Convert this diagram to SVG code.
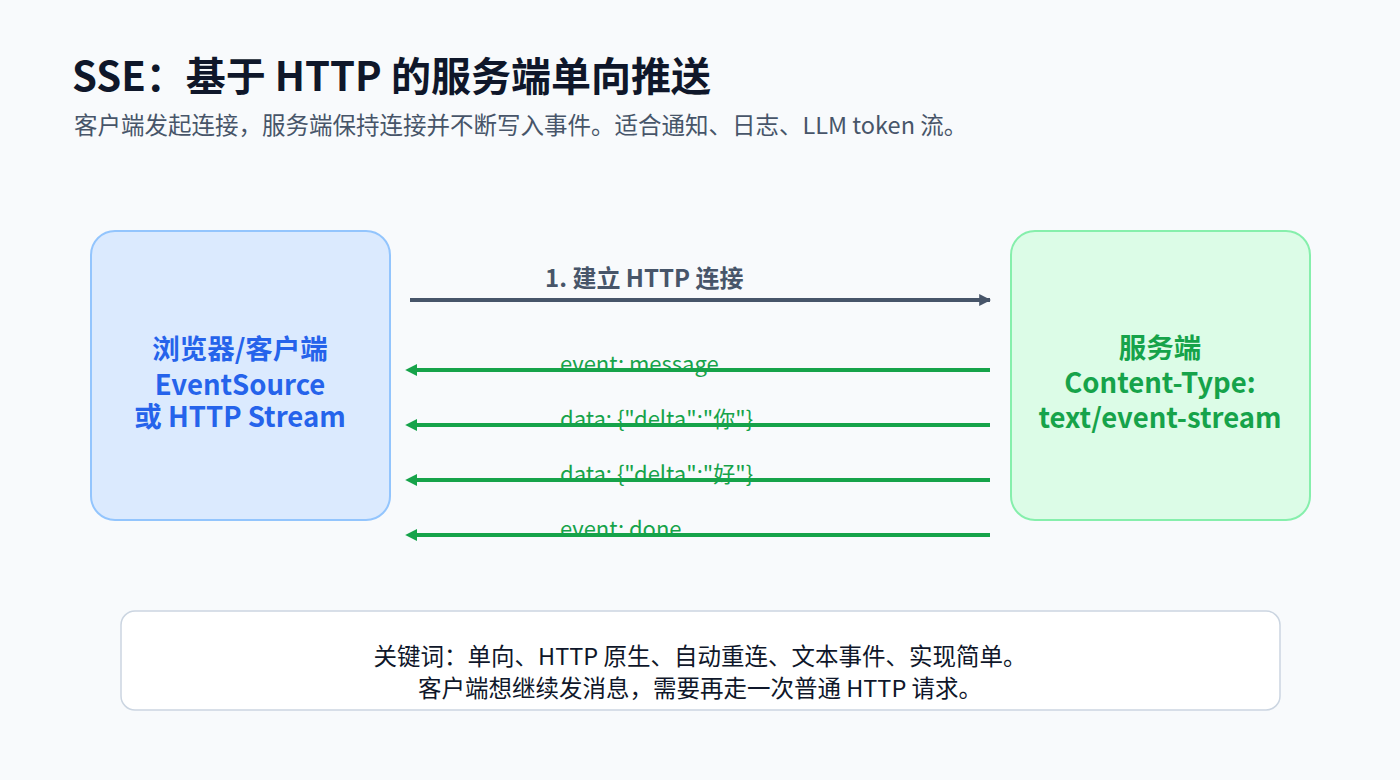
<svg xmlns="http://www.w3.org/2000/svg" width="1400" height="780" viewBox="0 0 1400 780">
<style>
text{font-family:"Noto Sans CJK SC","Noto Sans",sans-serif}
.msg{fill:#16a34a;font-size:22px}
.gl{stroke:#16a34a;stroke-width:4}
</style>
<defs>
<marker id="ag" viewBox="0 0 10 10" refX="1" refY="5" markerWidth="3" markerHeight="3" orient="auto-start-reverse"><path d="M0,0L10,5L0,10z" fill="#16a34a"/></marker>
<marker id="as" viewBox="0 0 10 10" refX="9" refY="5" markerWidth="3" markerHeight="3" orient="auto"><path d="M0,0L10,5L0,10z" fill="#475569"/></marker>
</defs>
<rect width="1400" height="780" fill="#f8fafc"/>
<text x="72" y="91" font-size="40" font-weight="bold" fill="#0f172a">SSE：基于 HTTP 的服务端单向推送</text>
<text x="74" y="134" font-size="23.5" fill="#475569">客户端发起连接，服务端保持连接并不断写入事件。适合通知、日志、LLM token 流。</text>
<g id="client">
<rect x="91" y="231" width="299" height="289" rx="24" fill="#dbeafe" stroke="#93c5fd" stroke-width="2"/>
<text x="240" y="359" font-size="27.5" font-weight="bold" fill="#2563eb" text-anchor="middle">浏览器/客户端</text>
<text x="240" y="395" font-size="27.5" font-weight="bold" fill="#2563eb" text-anchor="middle">EventSource</text>
<text x="240" y="427" font-size="27.5" font-weight="bold" fill="#2563eb" text-anchor="middle">或 HTTP Stream</text>
</g>
<g id="server">
<rect x="1011" y="231" width="299" height="289" rx="24" fill="#dcfce7" stroke="#86efac" stroke-width="2"/>
<text x="1160" y="358" font-size="27.5" font-weight="bold" fill="#16a34a" text-anchor="middle">服务端</text>
<text x="1160" y="393" font-size="27.5" font-weight="bold" fill="#16a34a" text-anchor="middle">Content-Type:</text>
<text x="1160" y="428" font-size="27.5" font-weight="bold" fill="#16a34a" text-anchor="middle">text/event-stream</text>
</g>
<g id="connectors">
<line x1="410" y1="300" x2="990" y2="300" stroke="#475569" stroke-width="4" marker-end="url(#as)"/>
<text x="545" y="287" font-size="24" font-weight="bold" fill="#475569">1. 建立 HTTP 连接</text>
<line class="gl" x1="990" y1="370" x2="416" y2="370" marker-end="url(#ag)"/>
<line class="gl" x1="990" y1="425" x2="416" y2="425" marker-end="url(#ag)"/>
<line class="gl" x1="990" y1="480" x2="416" y2="480" marker-end="url(#ag)"/>
<line class="gl" x1="990" y1="535" x2="416" y2="535" marker-end="url(#ag)"/>
<text class="msg" x="560" y="372">event: message</text>
<text class="msg" x="560" y="427">data: {"delta":"你"}</text>
<text class="msg" x="560" y="482">data: {"delta":"好"}</text>
<text class="msg" x="560" y="537">event: done</text>
</g>
<g id="note">
<rect x="121" y="611" width="1159" height="99" rx="14" fill="#ffffff" stroke="#cbd5e1" stroke-width="1.5"/>
<text x="700" y="665" font-size="23.5" fill="#0f172a" text-anchor="middle">关键词：单向、HTTP 原生、自动重连、文本事件、实现简单。</text>
<text x="700" y="697" font-size="23.5" fill="#0f172a" text-anchor="middle">客户端想继续发消息，需要再走一次普通 HTTP 请求。</text>
</g>
</svg>
